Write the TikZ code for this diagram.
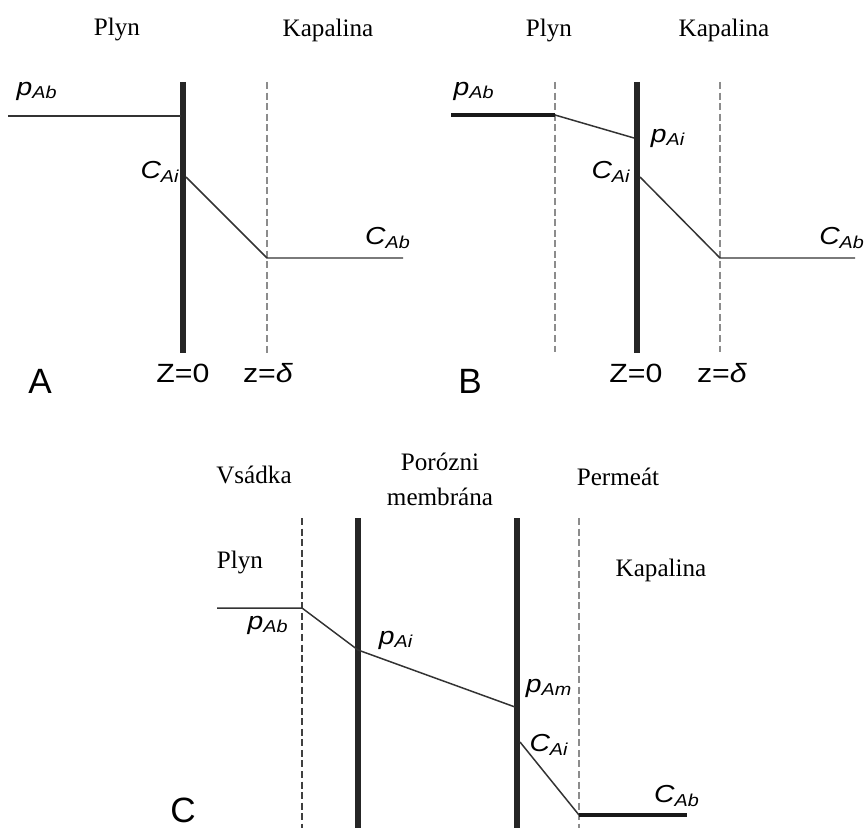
\documentclass[tikz,border=0pt]{standalone}
\usepackage{fontspec}
\setmainfont{Liberation Serif}
\setsansfont{Liberation Sans}
\newfontfamily\widesans{Liberation Sans}[FakeStretch=1.15]

\begin{document}
\begin{tikzpicture}[
  x=0.02cm, y=-0.02cm,
  phase/.style={font=\fontsize{14.3}{20}\selectfont, inner sep=0pt, align=center},
  conc/.style={font=\fontsize{14}{16}\selectfont\widesans\itshape, inner sep=0pt},
  zpos/.style={font=\fontsize{15}{17}\selectfont\widesans, inner sep=0pt},
  panel/.style={font=\fontsize{20}{24}\selectfont\sffamily, inner sep=0pt},
  wall/.style={draw=black!85, line width=3.1pt},
  film/.style={draw=black!45, line width=0.8pt, dash pattern=on 4pt off 2pt},
  prof/.style={draw=black!80, line width=0.85pt},
  bulk/.style={draw=black!90, line width=1.9pt},
]
\useasboundingbox (0,0) rectangle (865,828);

%% Panel A
\node[phase] (plynA) at (117,29) {Plyn};
\node[phase] (kapA)  at (328,30) {Kapalina};
\coordinate (wAt) at (183,82);   \coordinate (wAb) at (183,353);
\coordinate (dAt) at (267,82);   \coordinate (dAb) at (267,353);
\draw[wall] (wAt) -- (wAb);
\draw[film] (dAt) -- (dAb);
\coordinate (a1) at (8,116);   \coordinate (a2) at (181,116);
\coordinate (a3) at (186,177); \coordinate (a4) at (267,258);
\coordinate (a5) at (403,258);
\draw[prof] (a1) -- (a2);
\draw[prof] (a3) -- (a4) -- (a5);
\node[conc] (pAbA) at (37,91)   {p\textsubscript{Ab}};
\node[conc] (cAiA) at (160,172) {C\textsubscript{Ai}};
\node[conc] (cAbA) at (388,238) {C\textsubscript{Ab}};
\node[zpos] (z0A)  at (183,373) {Z=0};
\node[zpos] (zdA)  at (268,373) {z=\textit{δ}};
\node[panel] (labA) at (40,381) {A};

%% Panel B
\node[phase] (plynB) at (549,30) {Plyn};
\node[phase] (kapB)  at (724,30) {Kapalina};
\coordinate (gBt) at (555,82);  \coordinate (gBb) at (555,352);
\coordinate (wBt) at (637,82);  \coordinate (wBb) at (637,353);
\coordinate (dBt) at (720,82);  \coordinate (dBb) at (720,352);
\draw[film] (gBt) -- (gBb);
\draw[wall] (wBt) -- (wBb);
\draw[film] (dBt) -- (dBb);
\coordinate (b1) at (451,115); \coordinate (b2) at (555,115);
\coordinate (b3) at (634,138); \coordinate (b4) at (640,177);
\coordinate (b5) at (720,258); \coordinate (b6) at (855,258);
\draw[bulk] (b1) -- (b2);
\draw[prof] (b2) -- (b3);
\draw[prof] (b4) -- (b5) -- (b6);
\node[conc] (pAbB) at (474,91)  {p\textsubscript{Ab}};
\node[conc] (pAiB) at (668,138) {p\textsubscript{Ai}};
\node[conc] (cAiB) at (611,172) {C\textsubscript{Ai}};
\node[conc] (cAbB) at (842,238) {C\textsubscript{Ab}};
\node[zpos] (z0B)  at (636,373) {Z=0};
\node[zpos] (zdB)  at (722,373) {z=\textit{δ}};
\node[panel] (labB) at (470,381) {B};

%% Panel C
\node[phase] (vsad)  at (254,475) {Vsádka};
\node[phase] (memb)  at (440,479) {Porózni\\membrána};
\node[phase] (perm)  at (618,477) {Permeát};
\node[phase] (plynC) at (240,562) {Plyn};
\node[phase] (kapC)  at (661,570) {Kapalina};
\coordinate (gCt) at (302,518); \coordinate (gCb) at (302,828);
\coordinate (m1t) at (358,518); \coordinate (m1b) at (358,828);
\coordinate (m2t) at (517,518); \coordinate (m2b) at (517,828);
\coordinate (dCt) at (579,518); \coordinate (dCb) at (579,828);
\draw[film, draw=black!75] (gCt) -- (gCb);
\draw[wall, line width=3.8pt] (m1t) -- (m1b);
\draw[wall, line width=3.8pt] (m2t) -- (m2b);
\draw[film] (dCt) -- (dCb);
\coordinate (c1) at (217,608); \coordinate (c2) at (302,608);
\coordinate (c3) at (358,650); \coordinate (c4) at (515,707);
\coordinate (c5) at (520,742); \coordinate (c6) at (579,815);
\coordinate (c7) at (687,815);
\draw[prof] (c1) -- (c2) -- (c3) -- (c4);
\draw[prof] (c5) -- (c6);
\draw[bulk, line width=2.3pt] (c6) -- (c7);
\node[conc] (pAbC) at (268,625) {p\textsubscript{Ab}};
\node[conc] (pAiC) at (396,640) {p\textsubscript{Ai}};
\node[conc] (pAmC) at (549,688) {p\textsubscript{Am}};
\node[conc] (cAiC) at (549,745) {C\textsubscript{Ai}};
\node[conc] (cAbC) at (677,796) {C\textsubscript{Ab}};
\node[panel] (labC) at (183,810) {C};
\end{tikzpicture}
\end{document}
